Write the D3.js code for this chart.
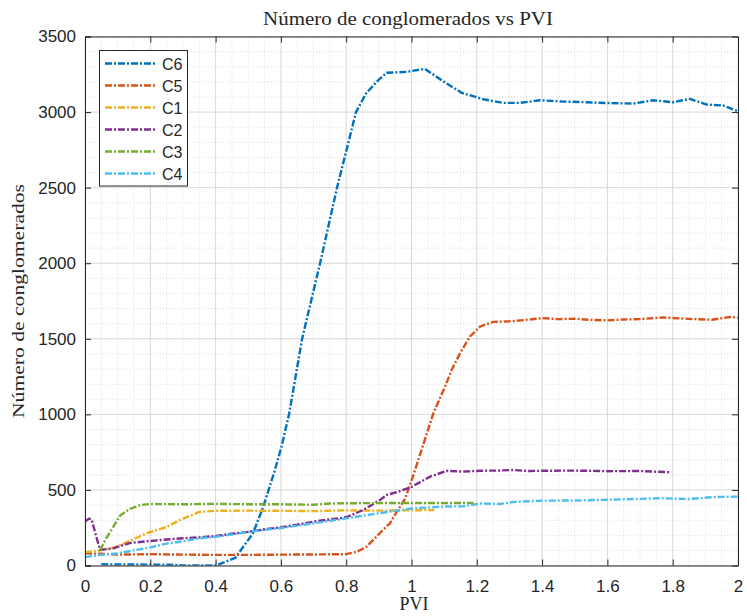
<!DOCTYPE html>
<html>
<head>
<meta charset="utf-8">
<script src="https://cdn.jsdelivr.net/npm/d3@7"></script>
<style>
  html, body { margin: 0; padding: 0; background: #fff; }
  svg { display: block; }
</style>
</head>
<body>
<div id="chart"></div>
<script>
// Series: PVI positions and cluster counts
const c6X = [0.05, 0.1, 0.2, 0.26, 0.3, 0.4, 0.46, 0.515, 0.546, 0.58, 0.602, 0.625, 0.665, 0.72, 0.772, 0.83, 0.862, 0.9, 0.924, 0.985, 1.041, 1.1, 1.154, 1.22, 1.281, 1.332, 1.394, 1.46, 1.537, 1.6, 1.68, 1.74, 1.8, 1.853, 1.904, 1.955, 2.0];
const c6Y = [8, 7, 6, 5, 0, 0, 50, 215, 389, 620, 787, 1000, 1500, 2000, 2500, 3000, 3127, 3215, 3260, 3266, 3286, 3200, 3127, 3085, 3061, 3061, 3078, 3070, 3065, 3060, 3056, 3078, 3065, 3087, 3050, 3043, 3005];

const c5X = [0, 0.05, 0.1, 0.2, 0.3, 0.4, 0.5, 0.6, 0.7, 0.8, 0.832, 0.86, 0.883, 0.91, 0.934, 0.955, 0.98, 1.006, 1.036, 1.067, 1.103, 1.123, 1.149, 1.179, 1.21, 1.25, 1.3, 1.35, 1.4, 1.45, 1.5, 1.55, 1.6, 1.65, 1.7, 1.77, 1.85, 1.92, 1.975, 2.0];
const c5Y = [80, 78, 72, 75, 72, 70, 70, 72, 73, 75, 91, 120, 169, 230, 279, 356, 440, 600, 800, 1008, 1184, 1295, 1405, 1515, 1581, 1612, 1615, 1625, 1637, 1630, 1633, 1625, 1622, 1628, 1630, 1641, 1632, 1626, 1644, 1640];

const c1X = [0, 0.046, 0.09, 0.14, 0.19, 0.25, 0.29, 0.35, 0.4, 0.5, 0.6, 0.7, 0.8, 0.9, 1.0, 1.07];
const c1Y = [88, 100, 120, 165, 215, 255, 300, 355, 362, 363, 362, 360, 365, 363, 365, 367];

const c2X = [0, 0.012, 0.02, 0.046, 0.087, 0.14, 0.19, 0.25, 0.3, 0.35, 0.4, 0.45, 0.505, 0.55, 0.6, 0.65, 0.7, 0.75, 0.8, 0.852, 0.904, 0.924, 0.955, 1.0, 1.057, 1.108, 1.158, 1.21, 1.26, 1.31, 1.36, 1.41, 1.5, 1.6, 1.7, 1.79];
const c2Y = [290, 310, 305, 103, 114, 150, 160, 172, 180, 186, 195, 210, 224, 240, 253, 270, 290, 305, 319, 367, 434, 467, 485, 520, 588, 626, 621, 627, 628, 632, 625, 627, 628, 624, 625, 617];

const c3X = [0.046, 0.065, 0.087, 0.107, 0.138, 0.17, 0.2, 0.3, 0.4, 0.5, 0.6, 0.7, 0.75, 0.8, 0.9, 1.0, 1.1, 1.19];
const c3Y = [100, 180, 257, 330, 375, 400, 407, 405, 408, 405, 405, 402, 410, 412, 413, 414, 413, 414];

const c4X = [0, 0.046, 0.1, 0.15, 0.2, 0.25, 0.3, 0.35, 0.4, 0.45, 0.505, 0.6, 0.7, 0.8, 0.9, 1.0, 1.1, 1.16, 1.21, 1.27, 1.31, 1.4, 1.5, 1.577, 1.65, 1.76, 1.85, 1.92, 2.0];
const c4Y = [55, 70, 80, 100, 120, 145, 160, 180, 190, 205, 224, 248, 279, 312, 346, 377, 390, 392, 410, 407, 420, 429, 430, 434, 438, 445, 440, 452, 456];

// Legend order
const seriesNames = ["C6", "C5", "C1", "C2", "C3", "C4"];
const seriesColors = ["#0072BD", "#D95319", "#EDB120", "#7E2F8E", "#77AC30", "#4DBEEE"];
const seriesX = [c6X, c5X, c1X, c2X, c3X, c4X];
const seriesY = [c6Y, c5Y, c1Y, c2Y, c3Y, c4Y];

const xTicks = [0, 0.2, 0.4, 0.6, 0.8, 1, 1.2, 1.4, 1.6, 1.8, 2];
const yTicks = [0, 500, 1000, 1500, 2000, 2500, 3000, 3500];

const titleText = "Número de conglomerados vs PVI";
const xLabelText = "PVI";
const yLabelText = "Número de conglomerados";

const W = 747, H = 616;
const m = { left: 85, right: 9, top: 36.5, bottom: 50.5 };
const iw = W - m.left - m.right, ih = H - m.top - m.bottom;

const svg = d3.select("#chart").append("svg").attr("width", W).attr("height", H);

const x = d3.scaleLinear().domain([0, 2]).range([m.left, m.left + iw]);
const y = d3.scaleLinear().domain([0, 3500]).range([m.top + ih, m.top]);

const sans = "'Liberation Sans', Arial, Helvetica, sans-serif";
const serif = "'Liberation Serif', 'Times New Roman', serif";

// Minor grid (dotted)
const g = svg.append("g");
const minorX = d3.range(0, 2.0001, 0.05).filter(v => Math.abs(v / 0.2 - Math.round(v / 0.2)) > 1e-6);
const minorY = d3.range(0, 3500.1, 100).filter(v => v % 500 !== 0);
g.selectAll(".mx").data(minorX).join("line")
  .attr("x1", d => x(d)).attr("x2", d => x(d)).attr("y1", m.top).attr("y2", m.top + ih)
  .attr("stroke", "#dedede").attr("stroke-width", 1).attr("stroke-dasharray", "1,2");
g.selectAll(".my").data(minorY).join("line")
  .attr("y1", d => y(d)).attr("y2", d => y(d)).attr("x1", m.left).attr("x2", m.left + iw)
  .attr("stroke", "#dedede").attr("stroke-width", 1).attr("stroke-dasharray", "1,2");

// Major grid (solid)
g.selectAll(".gx").data(xTicks).join("line")
  .attr("x1", d => x(d)).attr("x2", d => x(d)).attr("y1", m.top).attr("y2", m.top + ih)
  .attr("stroke", "#d8d8d8").attr("stroke-width", 1);
g.selectAll(".gy").data(yTicks).join("line")
  .attr("y1", d => y(d)).attr("y2", d => y(d)).attr("x1", m.left).attr("x2", m.left + iw)
  .attr("stroke", "#d8d8d8").attr("stroke-width", 1);

// Series lines (dash-dot)
const dash = "7,2,2,2";
const line = d3.line().x(d => x(d[0])).y(d => y(d[1]));
const clipId = "plotclip";
svg.append("clipPath").attr("id", clipId).append("rect")
  .attr("x", m.left).attr("y", m.top - 2).attr("width", iw + 1).attr("height", ih + 2);
const lines = svg.append("g").attr("clip-path", `url(#${clipId})`);
seriesNames.forEach((name, i) => {
  const pts = seriesX[i].map((v, k) => [v, seriesY[i][k]]);
  lines.append("path").datum(pts)
    .attr("d", line)
    .attr("fill", "none")
    .attr("stroke", seriesColors[i])
    .attr("stroke-width", 2.4)
    .attr("stroke-dasharray", dash)
    .attr("stroke-linejoin", "round");
});

// Axes with inward ticks on all four sides
const axisColor = "#262626";
const tickLen = 6;
const axBottom = svg.append("g").attr("transform", `translate(0,${m.top + ih})`)
  .call(d3.axisBottom(x).tickValues(xTicks).tickSize(-tickLen).tickPadding(14).tickFormat(d3.format("")));
const axTop = svg.append("g").attr("transform", `translate(0,${m.top})`)
  .call(d3.axisTop(x).tickValues(xTicks).tickSize(-tickLen).tickFormat(""));
const axLeft = svg.append("g").attr("transform", `translate(${m.left},0)`)
  .call(d3.axisLeft(y).tickValues(yTicks).tickSize(-tickLen).tickPadding(9).tickFormat(d3.format("")));
const axRight = svg.append("g").attr("transform", `translate(${m.left + iw},0)`)
  .call(d3.axisRight(y).tickValues(yTicks).tickSize(-tickLen).tickFormat(""));
[axBottom, axTop, axLeft, axRight].forEach(a => {
  a.selectAll("path.domain").attr("stroke", axisColor).attr("stroke-width", 1);
  a.selectAll(".tick line").attr("stroke", axisColor).attr("stroke-width", 1);
  a.selectAll(".tick text").attr("fill", axisColor).style("font-family", sans).style("font-size", "17px");
});
// keep only the end ticks inside the frame
axTop.selectAll(".tick").filter(d => d === 0 || d === 2).remove();
axRight.selectAll(".tick").filter(d => d === 0 || d === 3500).remove();

// Title and axis labels
svg.append("text").attr("x", 408).attr("y", 25).attr("text-anchor", "middle")
  .attr("textLength", 290).attr("lengthAdjust", "spacingAndGlyphs")
  .style("font-family", serif).style("font-size", "19px").attr("fill", "#262626").text(titleText);
svg.append("text").attr("x", 414).attr("y", 610).attr("text-anchor", "middle")
  .style("font-family", serif).style("font-size", "18px").attr("fill", "#262626").text(xLabelText);
svg.append("text").attr("transform", `translate(24,${(m.top + m.top + ih) / 2}) rotate(-90)`)
  .attr("text-anchor", "middle")
  .attr("textLength", 234).attr("lengthAdjust", "spacingAndGlyphs")
  .style("font-family", serif).style("font-size", "17px").attr("fill", "#262626").text(yLabelText);

// Legend
const lg = svg.append("g");
lg.append("rect").attr("x", 99.5).attr("y", 50.5).attr("width", 88).attr("height", 135.5)
  .attr("fill", "#fff").attr("stroke", axisColor).attr("stroke-width", 1);
seriesNames.forEach((name, i) => {
  const yy = 63.5 + i * 22;
  lg.append("line").attr("x1", 105).attr("x2", 157).attr("y1", yy).attr("y2", yy)
    .attr("stroke", seriesColors[i]).attr("stroke-width", 2.4).attr("stroke-dasharray", dash);
  lg.append("text").attr("x", 162).attr("y", yy + 6)
    .style("font-family", sans).style("font-size", "16px").attr("fill", "#262626").text(name);
});
</script>
</body>
</html>
